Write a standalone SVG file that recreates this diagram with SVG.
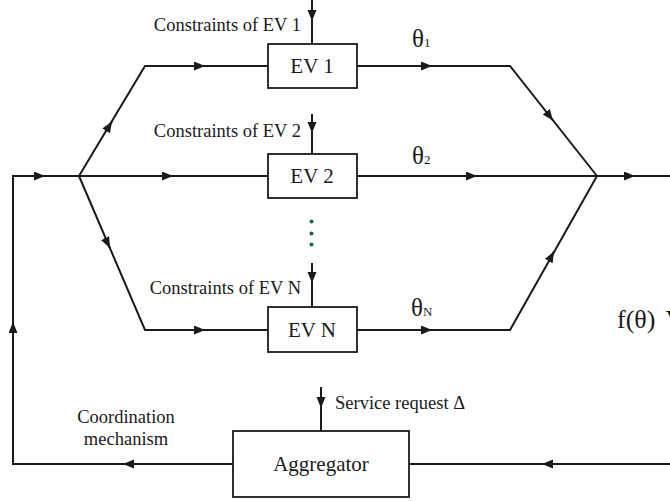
<svg xmlns="http://www.w3.org/2000/svg" width="670" height="501" viewBox="0 0 670 501">
<defs>
<marker id="ah" markerUnits="userSpaceOnUse" markerWidth="12" markerHeight="10" refX="11" refY="4.5" orient="auto">
<path d="M0,0 L11,4.5 L0,9 z" fill="#1a1a1a"/>
</marker>
<style>
.ln{fill:none;stroke:#1a1a1a;stroke-width:2;stroke-linejoin:miter}
.ar{fill:none;stroke:#1a1a1a;stroke-width:2;marker-end:url(#ah)}
.box{fill:#fff;stroke:#1a1a1a;stroke-width:1.8}
.bt{font-family:"Liberation Serif","Times New Roman",serif;font-size:21px;fill:#1a1a1a;text-anchor:middle}
.lb{font-family:"Liberation Serif","Times New Roman",serif;font-size:18.5px;fill:#1a1a1a}
.th{font-family:"Liberation Serif","Times New Roman",serif;font-size:25px;fill:#1a1a1a}
.sub{font-size:13px}
.dot{fill:#0f6b48}
</style>
</defs>
<rect width="670" height="501" fill="#fff"/>
<g id="connectors">
<path class="ln" d="M312,0 V44"/>
<path class="ar" d="M312,10 V21"/>
<path class="ln" d="M312,114 V154"/>
<path class="ar" d="M312,122 V133"/>
<path class="ln" d="M312,263 V307"/>
<path class="ar" d="M312,272 V283"/>
<path class="ln" d="M233,464 H13 V176 H79"/>
<path class="ar" d="M135,464 H123"/>
<path class="ar" d="M13,334 V322"/>
<path class="ar" d="M34,176 H45"/>
<path class="ln" d="M79,176 L145,66 H268"/>
<path class="ar" d="M106,131 L112,121.5"/>
<path class="ar" d="M194,66 H205"/>
<path class="ln" d="M79,176 H268"/>
<path class="ar" d="M162,176 H173"/>
<path class="ln" d="M79,176 L145,330 H268"/>
<path class="ar" d="M105,238 L110,248"/>
<path class="ar" d="M194,330 H205"/>
<path class="ln" d="M357,66 H510 L597,176"/>
<path class="ar" d="M421,66 H432"/>
<path class="ar" d="M546,111.5 L553,120.5"/>
<path class="ln" d="M357,176 H670"/>
<path class="ar" d="M466,176 H477"/>
<path class="ar" d="M624,176 H635"/>
<path class="ln" d="M357,330 H510 L597,176"/>
<path class="ar" d="M421,330 H432"/>
<path class="ar" d="M548.5,261.5 L554,251.5"/>
<path class="ln" d="M670,464 H409"/>
<path class="ar" d="M553,464 H542"/>
<path class="ln" d="M321,387 V431"/>
<path class="ar" d="M321,397 V408"/>
</g>
<g id="ev1">
<rect class="box" x="268" y="44" width="89" height="44"/>
<text class="bt" x="312" y="73">EV 1</text>
</g>
<g id="ev2">
<rect class="box" x="268" y="154" width="89" height="44"/>
<text class="bt" x="312" y="183">EV 2</text>
</g>
<g id="evn">
<rect class="box" x="268" y="307" width="89" height="45"/>
<text class="bt" x="312" y="337">EV N</text>
</g>
<g id="aggregator">
<rect class="box" x="233" y="431" width="176" height="66"/>
<text class="bt" x="321" y="471">Aggregator</text>
</g>
<g id="labels">
<text class="lb" x="301" y="31" text-anchor="end">Constraints of EV 1</text>
<text class="lb" x="301" y="137" text-anchor="end">Constraints of EV 2</text>
<text class="lb" x="301" y="294" text-anchor="end">Constraints of EV N</text>
<text class="lb" x="335" y="409">Service request Δ</text>
<text class="lb" x="126" y="423" text-anchor="middle">Coordination</text>
<text class="lb" x="126" y="445" text-anchor="middle">mechanism</text>
<text class="th" x="412" y="47">θ<tspan class="sub">1</tspan></text>
<text class="th" x="412" y="164">θ<tspan class="sub">2</tspan></text>
<text class="th" x="411" y="316">θ<tspan class="sub">N</tspan></text>
<text class="th" x="617" y="328" style="font-size:26px">f(θ)<tspan dx="10">V</tspan></text>
</g>
<g id="dots">
<circle class="dot" cx="311.5" cy="221.5" r="2"/>
<circle class="dot" cx="311.5" cy="233.5" r="2"/>
<circle class="dot" cx="311.5" cy="244.5" r="2"/>
</g>
</svg>
